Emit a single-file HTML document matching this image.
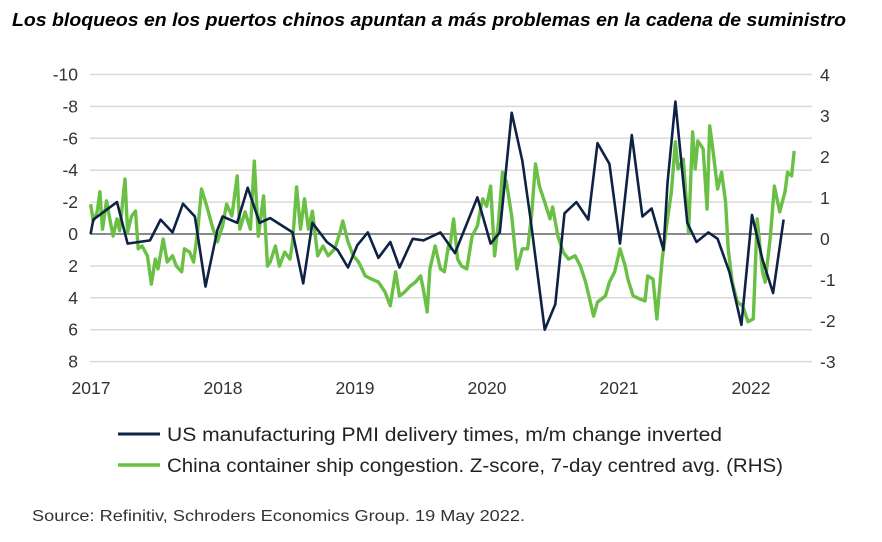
<!DOCTYPE html>
<html><head><meta charset="utf-8"><style>
html,body{margin:0;padding:0;background:#fff;width:882px;height:542px;overflow:hidden;font-family:"Liberation Sans",sans-serif;}
svg{display:block}
</style></head><body>
<svg width="882" height="542" id="c">
<text x="12" y="26" textLength="834" lengthAdjust="spacingAndGlyphs" font-size="18" font-weight="bold" font-style="italic" fill="#000">Los bloqueos en los puertos chinos apuntan a más problemas en la cadena de suministro</text>
<g id="grid"></g><g id="axes"></g><g id="series"></g>
<g>
<line x1="118" y1="434" x2="160" y2="434" stroke="#0e2245" stroke-width="3"/>
<text x="167" y="441" textLength="555" lengthAdjust="spacingAndGlyphs" font-size="19" fill="#222">US manufacturing PMI delivery times, m/m change inverted</text>
<line x1="118" y1="465" x2="160" y2="465" stroke="#6abf45" stroke-width="3.5"/>
<text x="167" y="472" textLength="616" lengthAdjust="spacingAndGlyphs" font-size="19" fill="#222">China container ship congestion. Z-score, 7-day centred avg. (RHS)</text>
</g>
<text x="32" y="521" textLength="493" lengthAdjust="spacingAndGlyphs" font-size="16" fill="#333">Source: Refinitiv, Schroders Economics Group. 19 May 2022.</text>
</svg>
<script>
const leftTicks=[-10,-8,-6,-4,-2,0,2,4,6,8];
const rightTicks=[4,3,2,1,0,-1,-2,-3];
const yearTicks=[2017,2018,2019,2020,2021,2022];
const usYears=[2017.02,2017.04,2017.22,2017.30,2017.47,2017.55,2017.64,2017.72,2017.81,2017.89,2017.98,2018.02,2018.13,2018.21,2018.30,2018.38,2018.55,2018.63,2018.70,2018.81,2018.89,2018.97,2019.04,2019.12,2019.20,2019.29,2019.36,2019.46,2019.54,2019.67,2019.78,2019.95,2020.05,2020.12,2020.21,2020.29,2020.35,2020.46,2020.54,2020.61,2020.70,2020.79,2020.86,2020.95,2021.03,2021.12,2021.20,2021.27,2021.36,2021.39,2021.45,2021.54,2021.61,2021.70,2021.77,2021.86,2021.95,2022.03,2022.11,2022.19,2022.27];
const usValues=[0,-0.9,-2.0,0.6,0.4,-0.9,-0.1,-1.9,-1.1,3.3,-0.25,-1.1,-0.7,-2.9,-0.7,-1.0,-0.1,3.1,-0.7,0.5,1.0,2.1,0.7,-0.1,1.5,0.5,2.1,0.3,0.4,-0.1,1.2,-2.3,0.6,-0.1,-7.6,-4.6,-1.1,6.0,4.4,-1.3,-2.0,-0.9,-5.7,-4.4,0.6,-6.2,-1.1,-1.6,1.0,-3.2,-8.3,-0.7,0.5,-0.1,0.3,2.4,5.7,-1.2,1.6,3.7,-0.9];
const cnYears=[2017.02,2017.04,2017.07,2017.09,2017.11,2017.14,2017.17,2017.19,2017.22,2017.24,2017.28,2017.30,2017.33,2017.36,2017.38,2017.41,2017.45,2017.48,2017.51,2017.53,2017.57,2017.60,2017.64,2017.67,2017.71,2017.73,2017.77,2017.80,2017.83,2017.86,2017.90,2017.94,2017.98,2018.02,2018.05,2018.09,2018.13,2018.15,2018.19,2018.23,2018.26,2018.29,2018.33,2018.36,2018.38,2018.42,2018.45,2018.49,2018.53,2018.55,2018.58,2018.61,2018.64,2018.67,2018.70,2018.74,2018.78,2018.82,2018.87,2018.91,2018.93,2018.97,2019.01,2019.05,2019.10,2019.15,2019.20,2019.25,2019.29,2019.33,2019.36,2019.40,2019.44,2019.48,2019.52,2019.54,2019.57,2019.59,2019.63,2019.67,2019.70,2019.73,2019.74,2019.77,2019.80,2019.83,2019.87,2019.91,2019.95,2019.97,2019.99,2020.02,2020.05,2020.08,2020.11,2020.14,2020.17,2020.21,2020.25,2020.29,2020.33,2020.36,2020.39,2020.42,2020.46,2020.50,2020.52,2020.56,2020.60,2020.64,2020.69,2020.73,2020.77,2020.80,2020.83,2020.86,2020.92,2020.95,2020.99,2021.03,2021.07,2021.09,2021.13,2021.18,2021.22,2021.24,2021.28,2021.31,2021.35,2021.39,2021.42,2021.45,2021.47,2021.51,2021.55,2021.58,2021.60,2021.62,2021.66,2021.69,2021.71,2021.73,2021.77,2021.80,2021.83,2021.85,2021.88,2021.92,2021.96,2022.00,2022.04,2022.07,2022.11,2022.13,2022.17,2022.20,2022.24,2022.28,2022.30,2022.33,2022.35];
const cnValues=[0.85,0.44,0.66,1.15,0.24,0.93,0.41,0.07,0.49,0.20,1.46,0.17,0.56,0.68,-0.24,-0.17,-0.41,-1.10,-0.49,-0.73,0,-0.56,-0.41,-0.66,-0.80,-0.24,-0.32,-0.56,0.17,1.22,0.80,0.32,-0.07,0.32,0.85,0.56,1.54,0.24,0.66,0.24,1.90,0.07,1.05,-0.66,-0.56,-0.17,-0.66,-0.32,-0.49,-0.07,1.27,0.24,0.98,0.24,0.68,-0.41,-0.17,-0.41,-0.24,0.17,0.44,-0.07,-0.41,-0.56,-0.90,-0.98,-1.05,-1.29,-1.63,-0.80,-1.39,-1.29,-1.15,-1.05,-0.90,-1.22,-1.78,-0.73,-0.17,-0.73,-0.80,-0.17,-0.24,0.49,-0.49,-0.66,-0.73,0.07,0.32,0.66,0.98,0.80,1.29,-0.41,0.41,1.63,1.39,0.56,-0.73,-0.24,-0.24,0.56,1.83,1.29,0.90,0.49,0.78,0.07,-0.32,-0.49,-0.41,-0.66,-1.05,-1.46,-1.88,-1.54,-1.39,-1.05,-0.80,-0.24,-0.66,-0.98,-1.39,-1.46,-1.51,-0.90,-0.98,-1.95,-0.49,0.49,1.15,2.37,1.71,1.95,0.17,2.61,1.71,2.39,2.20,0.73,2.76,2.27,1.22,1.63,0.90,-0.24,-1.05,-1.54,-1.63,-2.02,-1.95,0.49,-0.80,-1.05,0.07,1.29,0.66,1.15,1.63,1.54,2.15];

const NS="http://www.w3.org/2000/svg";
function xS(t){return 88+132*(t-2017);}
function yL(v){return 234+v*15.95;}
function yR(v){return 239-v*41;}
function mk(tag,attrs,parent){const e=document.createElementNS(NS,tag);for(const k in attrs)e.setAttribute(k,attrs[k]);parent.appendChild(e);return e;}
const grid=document.getElementById('grid'),axes=document.getElementById('axes'),series=document.getElementById('series');
leftTicks.forEach(v=>{
  const l=mk('line',{x1:90,x2:812,y1:yL(v),y2:yL(v),stroke:v===0?'#8a8a8a':'#d9d9d9','stroke-width':v===0?2:1.5},grid);
  
  
  const t=mk('text',{x:78,y:yL(v)+6,'text-anchor':'end','font-size':17.5,fill:'#333'},axes);
  t.textContent=String(v);
  
  
});
rightTicks.forEach(v=>{
  const t=mk('text',{x:820,y:yR(v)+6,'font-size':17.5,fill:'#333'},axes);
  t.textContent=String(v);
  
  
});
yearTicks.forEach(y=>{
  const t=mk('text',{x:xS(y)+3,y:394,'text-anchor':'middle','font-size':17.5,fill:'#333'},axes);
  t.textContent=String(y);
  
  
});
const cn=mk('polyline',{points:cnYears.map((t,i)=>xS(t).toFixed(1)+','+yR(cnValues[i]).toFixed(1)).join(' '),fill:'none',stroke:'#6abf45','stroke-width':3.4,'stroke-linejoin':'round'},series);


const us=mk('polyline',{points:usYears.map((t,i)=>xS(t).toFixed(1)+','+yL(usValues[i]).toFixed(1)).join(' '),fill:'none',stroke:'#0e2245','stroke-width':2.6,'stroke-linejoin':'round'},series);


</script>
</body></html>
